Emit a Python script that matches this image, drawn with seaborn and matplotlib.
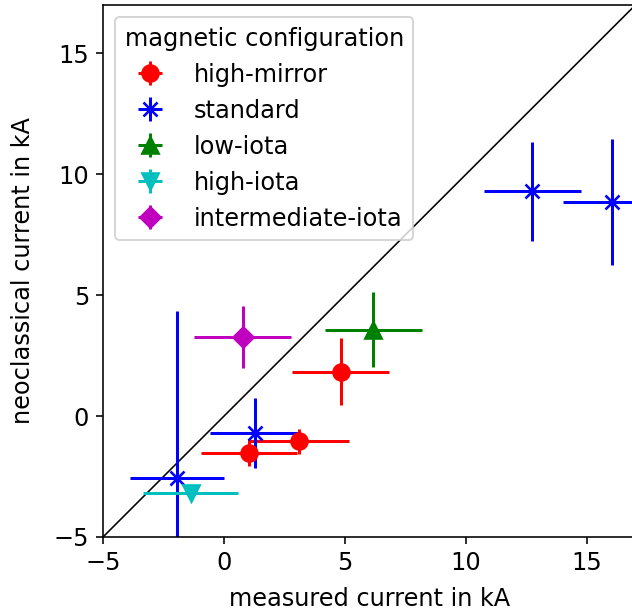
import matplotlib
matplotlib.use("Agg")
import matplotlib.pyplot as plt
import seaborn as sns
import pandas as pd

# Measured vs. neoclassical bootstrap current per magnetic configuration (kA)
configs = ["high-mirror", "standard", "low-iota", "high-iota", "intermediate-iota"]
colors = ["r", "b", "g", "c", "m"]
markers = ["o", "x", "^", "v", "D"]

hm_x = [1.03, 3.1, 4.82]
hm_y = [-1.51, -1.05, 1.84]
hm_xerr = [2.0, 2.05, 2.0]
hm_yerr = [0.55, 0.5, 1.4]

std_x = [-1.95, 1.28, 12.74, 16.02]
std_y = [-2.55, -0.71, 9.3, 8.84]
std_xerr = [1.95, 1.87, 2.0, 2.0]
std_yerr = [6.9, 1.45, 2.05, 2.6]

li_x = [6.17]
li_y = [3.57]
li_xerr = [2.0]
li_yerr = [1.55]

hi_x = [-1.38]
hi_y = [-3.19]
hi_xerr = [1.95]
hi_yerr = [0.3]

ii_x = [0.77]
ii_y = [3.27]
ii_xerr = [2.0]
ii_yerr = [1.3]

groups = [
    (hm_x, hm_y, hm_xerr, hm_yerr),
    (std_x, std_y, std_xerr, std_yerr),
    (li_x, li_y, li_xerr, li_yerr),
    (hi_x, hi_y, hi_xerr, hi_yerr),
    (ii_x, ii_y, ii_xerr, ii_yerr),
]

frames = []
for name, (x, y, xe, ye) in zip(configs, groups):
    frames.append(pd.DataFrame({"config": name, "measured": x, "neoclassical": y,
                                "xerr": xe, "yerr": ye}))
df = pd.concat(frames, ignore_index=True)

lims = [-5, 17]
diag = pd.DataFrame({"measured": lims, "neoclassical": lims})

sns.set_style("ticks")
plt.rcParams["font.family"] = ["DejaVu Sans"]
plt.rcParams["text.color"] = "black"
plt.rcParams["axes.labelcolor"] = "black"
plt.rcParams["xtick.color"] = "black"
plt.rcParams["ytick.color"] = "black"

fig = plt.figure(figsize=(632 / 144, 615 / 144), dpi=144)
ax = fig.add_axes([103 / 632, 78 / 615, 532.4 / 632, 532 / 615])

sns.lineplot(data=diag, x="measured", y="neoclassical", color="black", lw=0.8,
             ax=ax, legend=False)

sizes = {"o": 8, "x": 7, "^": 8, "v": 8, "D": 7}
for name, col, mk in zip(configs, colors, markers):
    sub = df[df["config"] == name]
    ax.errorbar(sub["measured"], sub["neoclassical"], xerr=sub["xerr"], yerr=sub["yerr"],
                fmt=mk, color=col, ms=sizes[mk], mew=1.3, lw=1.5,
                label=name)

ax.set_xlim(lims)
ax.set_ylim(lims)
ax.set_xticks([-5, 0, 5, 10, 15])
ax.set_yticks([-5, 0, 5, 10, 15])
ax.set_xlabel("measured current in kA", fontsize=12, labelpad=6)
ax.set_ylabel("neoclassical current in kA", fontsize=12, labelpad=9)
ax.tick_params(labelsize=12, length=3.5, width=0.8)
for sp in ax.spines.values():
    sp.set_color("black")
    sp.set_linewidth(0.8)

ax.legend(title="magnetic configuration", loc="upper left", fontsize=12,
          title_fontsize=12, frameon=True)

fig.savefig("out.png", dpi=144)
